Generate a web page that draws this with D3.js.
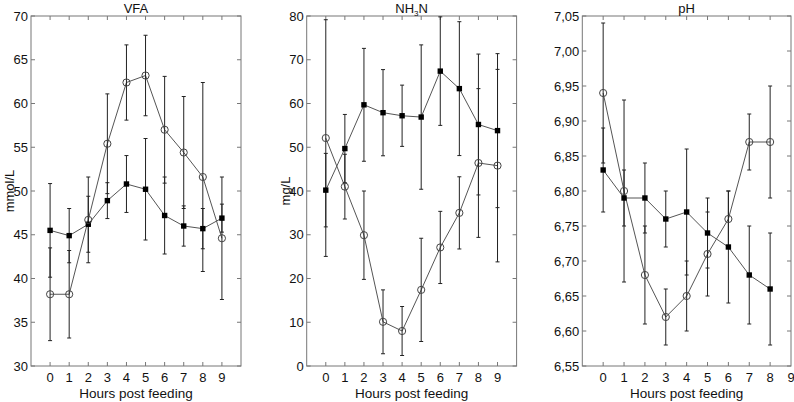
<!DOCTYPE html>
<html>
<head>
<meta charset="utf-8">
<script src="https://cdn.jsdelivr.net/npm/d3@7"></script>
<style>
    body { margin: 0; background: #fff; }
    text { font-family: "Liberation Sans", Arial, Helvetica, sans-serif; fill: #111; }
</style>
</head>
<body>
<div id="d3div"></div>
<script>
// hours post feeding
let hours = [0, 1, 2, 3, 4, 5, 6, 7, 8, 9];
let phHours = [0, 1, 2, 3, 4, 5, 6, 7, 8];

// VFA, mmol/L
let vfaOpen = [38.2, 38.2, 46.7, 55.4, 62.4, 63.2, 57.0, 54.4, 51.6, 44.6];
let vfaOpenSd = [5.3, 5.0, 4.9, 5.7, 4.3, 4.6, 6.1, 6.4, 10.8, 7.0];
let vfaFilled = [45.5, 44.9, 46.2, 48.9, 50.8, 50.2, 47.2, 46.0, 45.7, 46.9];
let vfaFilledSd = [5.35, 3.1, 3.2, 2.05, 3.25, 5.8, 4.4, 2.3, 2.3, 1.6];

// NH3-N, mg/L
let nh3Open = [52.1, 41.0, 29.9, 10.1, 8.0, 17.4, 27.1, 35.0, 46.4, 45.8];
let nh3OpenSd = [27.05, 7.4, 10.1, 7.3, 5.6, 11.8, 8.25, 8.25, 17.0, 22.0];
let nh3Filled = [40.2, 49.7, 59.7, 57.9, 57.2, 56.9, 67.4, 63.4, 55.2, 53.8];
let nh3FilledSd = [8.4, 7.8, 12.9, 9.85, 7.0, 16.5, 12.4, 15.3, 16.1, 17.6];

// pH
let phOpen = [6.94, 6.80, 6.68, 6.62, 6.65, 6.71, 6.76, 6.87, 6.87];
let phOpenSd = [0.10, 0.13, 0.07, 0.04, 0.05, 0.06, 0.04, 0.04, 0.08];
let phFilled = [6.83, 6.79, 6.79, 6.76, 6.77, 6.74, 6.72, 6.68, 6.66];
let phFilledSd = [0.06, 0.04, 0.05, 0.04, 0.09, 0.05, 0.08, 0.07, 0.08];

// tick labels
let xTicks = [0, 1, 2, 3, 4, 5, 6, 7, 8, 9];
let vfaTicks = [30, 35, 40, 45, 50, 55, 60, 65, 70];
let nh3Ticks = [0, 10, 20, 30, 40, 50, 60, 70, 80];
let phTicks = [6.55, 6.60, 6.65, 6.70, 6.75, 6.80, 6.85, 6.90, 6.95, 7.00, 7.05];

(() => {
    let w = 794;
    let h = 402;
    let top = 16;
    let bottom = 366;

    let svg = d3.select("#d3div")
        .append("svg")
        .attr("width", w)
        .attr("height", h);

    let panels = [
        {
            title: "VFA", ylabel: "mmol/L", left: 31, right: 241,
            xmax: 10, ydom: [30, 70], yticks: vfaTicks, fmt: (d) => d,
            x: hours, open: vfaOpen, openSd: vfaOpenSd, filled: vfaFilled, filledSd: vfaFilledSd
        },
        {
            title: "NH3N", ylabel: "mg/L", left: 306.7, right: 516.6,
            xmax: 10, ydom: [0, 80], yticks: nh3Ticks, fmt: (d) => d,
            x: hours, open: nh3Open, openSd: nh3OpenSd, filled: nh3Filled, filledSd: nh3FilledSd
        },
        {
            title: "pH", ylabel: null, left: 582.3, right: 791,
            xmax: 9, ydom: [6.55, 7.05], yticks: phTicks, fmt: (d) => d3.format(".2f")(d).replace(".", ","),
            x: phHours, open: phOpen, openSd: phOpenSd, filled: phFilled, filledSd: phFilledSd
        }
    ];

    panels.forEach((p) => {
        let x = d3.scaleLinear().domain([-1, p.xmax]).range([p.left, p.right]);
        let y = d3.scaleLinear().domain(p.ydom).range([bottom, top]);
        let g = svg.append("g");
        let tk = 4;

        // box
        g.append("rect")
            .attr("x", p.left)
            .attr("y", top)
            .attr("width", p.right - p.left)
            .attr("height", bottom - top)
            .attr("fill", "none")
            .attr("stroke", "#777")
            .attr("stroke-width", 1);

        // inward ticks on all sides
        let xt = xTicks.filter((d) => d < p.xmax);
        g.selectAll(".xtb").data(xt).enter().append("line")
            .attr("x1", (d) => x(d)).attr("x2", (d) => x(d))
            .attr("y1", bottom).attr("y2", bottom - tk)
            .attr("stroke", "#777");
        g.selectAll(".xtt").data(xt).enter().append("line")
            .attr("x1", (d) => x(d)).attr("x2", (d) => x(d))
            .attr("y1", top).attr("y2", top + tk)
            .attr("stroke", "#777");
        g.selectAll(".ytl").data(p.yticks).enter().append("line")
            .attr("x1", p.left).attr("x2", p.left + tk)
            .attr("y1", (d) => y(d)).attr("y2", (d) => y(d))
            .attr("stroke", "#777");
        g.selectAll(".ytr").data(p.yticks).enter().append("line")
            .attr("x1", p.right).attr("x2", p.right - tk)
            .attr("y1", (d) => y(d)).attr("y2", (d) => y(d))
            .attr("stroke", "#777");

        // tick labels
        g.selectAll(".xl").data(xTicks.filter((d) => d <= p.xmax)).enter().append("text")
            .attr("x", (d) => x(d))
            .attr("y", 381.5)
            .attr("text-anchor", "middle")
            .attr("font-size", 13)
            .text((d) => d);
        g.selectAll(".yl").data(p.yticks).enter().append("text")
            .attr("x", p.left - 3)
            .attr("y", (d) => y(d) + 4.5)
            .attr("text-anchor", "end")
            .attr("font-size", 13)
            .text(p.fmt);

        // titles
        let cx = (p.left + p.right) / 2;
        let t = g.append("text")
            .attr("x", cx)
            .attr("y", 12.5)
            .attr("text-anchor", "middle")
            .attr("font-size", 13);
        if (p.title == "NH3N") {
            t.append("tspan").text("NH");
            t.append("tspan").attr("font-size", 8).attr("dy", 3).text("3");
            t.append("tspan").attr("dy", -3).text("N");
        } else {
            t.text(p.title);
        }

        g.append("text")
            .attr("x", cx)
            .attr("y", 397.5)
            .attr("text-anchor", "middle")
            .attr("font-size", 13.5)
            .text("Hours post feeding");

        if (p.ylabel) {
            g.append("text")
                .attr("transform", "translate(" + (p.left - 17) + "," + ((top + bottom) / 2) + ") rotate(-90)")
                .attr("text-anchor", "middle")
                .attr("font-size", 13)
                .text(p.ylabel);
        }

        let series = [
            { vals: p.open, sd: p.openSd, kind: "open" },
            { vals: p.filled, sd: p.filledSd, kind: "filled" }
        ];

        let line = d3.line()
            .x((d, i) => x(p.x[i]))
            .y((d) => y(d));

        series.forEach((s) => {
            g.append("path")
                .attr("d", line(s.vals))
                .attr("fill", "none")
                .attr("stroke", "#555")
                .attr("stroke-width", 1);
        });

        series.forEach((s) => {
            let bars = s.vals.map((v, i) => ({ x: p.x[i], lo: v - s.sd[i], hi: v + s.sd[i] }));
            g.selectAll(".eb").data(bars).enter().append("line")
                .attr("x1", (d) => x(d.x)).attr("x2", (d) => x(d.x))
                .attr("y1", (d) => y(d.lo)).attr("y2", (d) => y(d.hi))
                .attr("stroke", "#222")
                .attr("stroke-width", 1);
            ["lo", "hi"].forEach((k) => {
                g.selectAll(".cap").data(bars).enter().append("line")
                    .attr("x1", (d) => x(d.x) - 2).attr("x2", (d) => x(d.x) + 2)
                    .attr("y1", (d) => y(d[k])).attr("y2", (d) => y(d[k]))
                    .attr("stroke", "#222")
                    .attr("stroke-width", 1);
            });
        });

        g.selectAll(".sq").data(p.filled).enter().append("rect")
            .attr("x", (d, i) => x(p.x[i]) - 2.7)
            .attr("y", (d) => y(d) - 2.7)
            .attr("width", 5.4)
            .attr("height", 5.4)
            .attr("fill", "#000");

        g.selectAll(".ci").data(p.open).enter().append("circle")
            .attr("cx", (d, i) => x(p.x[i]))
            .attr("cy", (d) => y(d))
            .attr("r", 3.6)
            .attr("fill", "none")
            .attr("stroke", "#444")
            .attr("stroke-width", 1);
    });
})();
</script>
</body>
</html>
